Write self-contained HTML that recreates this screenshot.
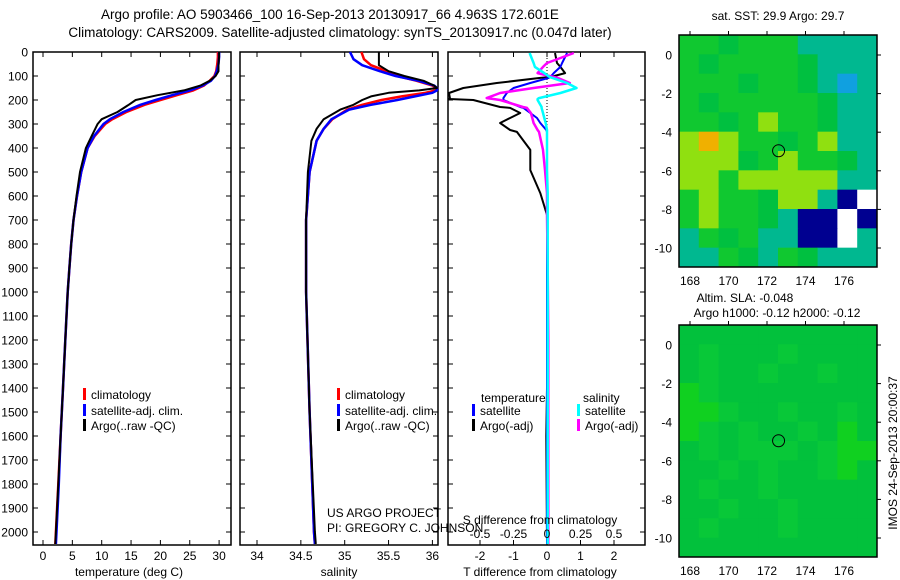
<!DOCTYPE html>
<html><head><meta charset="utf-8">
<style>
body{margin:0;background:#fff;}
svg{display:block;font-family:"Liberation Sans",sans-serif;}
text{font-size:12px;fill:#000;}
</style></head>
<body>
<svg id="chart" width="900" height="580" viewBox="0 0 900 580" xmlns="http://www.w3.org/2000/svg">
<text x="330" y="19" text-anchor="middle" style="font-size:13.5px">Argo profile: AO 5903466_100 16-Sep-2013 20130917_66 4.963S 172.601E</text>
<text x="340" y="37" text-anchor="middle" style="font-size:13.5px">Climatology: CARS2009. Satellite-adjusted climatology: synTS_20130917.nc (0.047d later)</text>
<g id="g1"></g>
<g id="g2"></g>
<g id="g3"></g>
<g id="m1"></g>
<g id="m2"></g>
<text x="778" y="20" text-anchor="middle">sat. SST: 29.9 Argo: 29.7</text>
<text x="745" y="302" text-anchor="middle">Altim. SLA: -0.048</text>
<text x="777" y="317" text-anchor="middle">Argo h1000: -0.12 h2000: -0.12</text>
<text transform="translate(897,453) rotate(-90)" text-anchor="middle">IMOS 24-Sep-2013 20:00:37</text>
<text x="327" y="517">US ARGO PROJECT</text>
<text x="327" y="532">PI: GREGORY C. JOHNSON</text>
</svg>
<script>
// ---- data ----
const tDepth = [0,20,50,80,100,120,140,160,180,200,220,250,280,300,350,400,500,600,700,800,900,1000,1200,1400,1600,1800,2000,2050];
const tClim  = [29.8,29.8,29.7,29.5,29.2,28.4,27.4,25.6,22.8,20.0,17.3,14.2,11.8,10.6,8.8,7.6,6.5,5.8,5.2,4.8,4.5,4.2,3.8,3.4,3.0,2.6,2.2,2.1];
const tSat   = [30.0,30.0,29.9,29.6,29.3,28.6,27.2,25.0,22.0,19.2,16.6,13.7,11.4,10.3,8.7,7.6,6.5,5.8,5.2,4.8,4.5,4.2,3.8,3.4,3.0,2.7,2.3,2.2];
const tArgo  = [30.0,30.0,29.9,29.9,29.4,28.4,26.8,24.0,19.5,15.8,14.6,12.7,10.0,9.3,8.3,7.3,6.3,5.7,5.2,4.8,4.5,4.2,3.8,3.4,3.0,2.6,2.2,2.1];
const sDepth = [0,30,55,80,100,120,140,150,160,170,185,200,220,240,280,320,370,500,700,1000,1500,2000,2050];
const sClim  = [35.19,35.22,35.3,35.48,35.6,35.82,36.0,36.06,36.04,35.92,35.65,35.42,35.2,35.03,34.86,34.76,34.68,34.6,34.56,34.56,34.6,34.65,34.66];
const sSat   = [35.06,35.1,35.2,35.4,35.58,35.84,36.02,36.06,36.06,36.0,35.8,35.6,35.3,35.05,34.85,34.76,34.68,34.6,34.56,34.56,34.6,34.65,34.66];
const sArgo  = [35.39,35.39,35.39,35.5,35.68,35.9,36.02,36.06,35.85,35.5,35.3,35.2,35.1,34.95,34.76,34.68,34.62,34.58,34.56,34.56,34.6,34.66,34.67];
const dDepth = [4,46,62,88,104,108,129,150,171,192,196,200,229,233,254,275,296,325,333,408,492,588,679,900,1200,1600,2050];
const dTArgo = [0.24,0.3,0.4,0.54,0.1,-0.2,-1.5,-2.5,-2.96,-2.9,-2.96,-2.2,-1.4,-1.1,-0.8,-1.1,-1.4,-1.1,-0.9,-0.5,-0.5,-0.2,0,0.03,0.02,-0.02,0];
const dTSat  = [0.6,0.45,0.4,0.2,0.1,0.05,-0.5,-1.0,-1.2,-1.3,-1.3,-1.3,-0.8,-0.7,-0.5,-0.3,-0.2,-0.02,0,0,0,0,0,0,0,0,0];
const dSArgo = [0.2,0.0,-0.03,-0.07,0.05,0.08,0.17,-0.1,-0.35,-0.45,-0.4,-0.35,-0.18,-0.15,-0.12,-0.11,-0.1,-0.07,-0.06,-0.03,-0.015,0,0,0.005,0.01,0.01,0.01];
const dSSat  = [-0.13,-0.1,-0.09,-0.02,0.02,0.04,0.15,0.22,0.1,-0.06,-0.07,-0.07,-0.04,-0.04,-0.03,-0.02,-0.01,0,0,0,0,0.005,0.005,0.005,0.005,0.005,0.005];
const depthTicks = [0,100,200,300,400,500,600,700,800,900,1000,1100,1200,1300,1400,1500,1600,1700,1800,1900,2000];
const tTicks = [0,5,10,15,20,25,30];
const sTicks = [34,34.5,35,35.5,36];
const dTTicks = [-2,-1,0,1,2];
const dSTicks = [-0.5,-0.25,0,0.25,0.5];
const dSTickLabels = ['-0.5','-0.25','0','0.25','0.5'];
const lonTicks = [168,170,172,174,176];
const latTicks = [0,-2,-4,-6,-8,-10];
const argoLon = 172.601, argoLat = -4.963;
const sstRows = [
 "ggGgggcccc","gGggggGccc","gggGggGcbc","gGgggggGcc","ggGgyggGcc",
 "yoyggGgycc","yyyGgyggGc","yygyyyyycc","gyggGyycnw","gyggGcnnwn","cgGgccnnwc","ccgGcgGccc"];
const slaRows = [
 "GGGGGGGGGG","GgGGGgGGGG","GgGGgGGgGG","LgGGGGGGGG","LLgGGgGGgG",
 "LgGgGGgGLG","GgGgggGgLL","GGgGgGGgLG","GgGGgGGGGG","GGgGGgGGGG","GgGGGgGGGG","GGGGGGGGGG"];
const cellColor = {g:'#10c830',G:'#00c040',y:'#90e010',o:'#f0b000',c:'#00b890',b:'#10a0e0',n:'#000090',w:'#ffffff',L:'#10d020'};
const slaColor = {g:'#08c838',G:'#02c13c',L:'#10d020'};

const NS='http://www.w3.org/2000/svg';
function mk(parent,tag,attrs){const e=document.createElementNS(NS,tag);for(const k in attrs)e.setAttribute(k,attrs[k]);parent.appendChild(e);return e;}
const yTop=52, yBot=545, yScale=d=>yTop+d*0.24;

function frame(g,x0,x1,xs,ticks,labels,showY){
  const r=mk(g,'rect',{x:x0,y:yTop,width:x1-x0,height:yBot-yTop,fill:'none',stroke:'#000','stroke-width':1.5});
  
  
  depthTicks.forEach(d=>{
    const y=yScale(d);
    mk(g,'line',{x1:x0,x2:x0+5,y1:y,y2:y,stroke:'#000'});
    mk(g,'line',{x1:x1-5,x2:x1,y1:y,y2:y,stroke:'#000'});
    if(showY){const t=mk(g,'text',{x:x0-5,y:y+4.5,'text-anchor':'end'});t.textContent=d;
      
      }
  });
  ticks.forEach((v,i)=>{
    const x=xs(v);
    mk(g,'line',{x1:x,x2:x,y1:yTop,y2:yTop+5,stroke:'#000'});
    mk(g,'line',{x1:x,x2:x,y1:yBot-5,y2:yBot,stroke:'#000'});
    if(labels){const t=mk(g,'text',{x:x,y:560,'text-anchor':'middle'});t.textContent=labels[i];
      
      }
  });
}
function line(g,xs,vals,deps,color,w,name,clip){
  const pts=vals.map((v,i)=>{let x=xs(v);if(clip)x=Math.max(clip[0],Math.min(clip[1],x));return x.toFixed(1)+','+yScale(deps[i]).toFixed(1);}).join(' ');
  const p=mk(g,'polyline',{points:pts,fill:'none',stroke:color,'stroke-width':w,'stroke-linejoin':'round'});
  
  
}
function legend(g,x,y,color,label,name){
  mk(g,'rect',{x:x,y:y-9,width:3,height:12,fill:color});
  const t=mk(g,'text',{x:x+8,y:y+2});t.textContent=label;
  
  
}
function axisTitle(g,x,y,s,name){const t=mk(g,'text',{x:x,y:y,'text-anchor':'middle'});t.textContent=s;
  
  }

const g1=document.getElementById('g1');
const xT=v=>43+v*5.87;
frame(g1,33,231,xT,tTicks,tTicks.map(String),true);
line(g1,xT,tClim,tDepth,'#ff0000',2.5,'temp-climatology-line');
line(g1,xT,tSat,tDepth,'#0000ff',2.5,'temp-satellite-line');
line(g1,xT,tArgo,tDepth,'#000000',2,'temp-argo-line');
legend(g1,83,397,'#ff0000','climatology','legend-climatology');
legend(g1,83,413,'#0000ff','satellite-adj. clim.','legend-satellite');
legend(g1,83,428,'#000000','Argo(..raw -QC)','legend-argo');
axisTitle(g1,129,576,'temperature (deg C)','x-axis-title-temperature');

const g2=document.getElementById('g2');
const xS=v=>257+(v-34)*87.7;
frame(g2,240,438,xS,sTicks,sTicks.map(String),false);
const cl2=[241,437];
line(g2,xS,sClim,sDepth,'#ff0000',2.5,'sal-climatology-line',cl2);
line(g2,xS,sSat,sDepth,'#0000ff',2.5,'sal-satellite-line',cl2);
line(g2,xS,sArgo,sDepth,'#000000',2,'sal-argo-line',cl2);
legend(g2,337,397,'#ff0000','climatology','legend-climatology-2');
legend(g2,337,413,'#0000ff','satellite-adj. clim.','legend-satellite-2');
legend(g2,337,428,'#000000','Argo(..raw -QC)','legend-argo-2');
axisTitle(g2,339,576,'salinity','x-axis-title-salinity');

const g3=document.getElementById('g3');
const xDT=v=>547+v*33.5, xDS=v=>547+v*134;
frame(g3,448,645,xDT,dTTicks,dTTicks.map(String),false);
mk(g3,'line',{x1:547,x2:547,y1:yTop,y2:yBot,stroke:'#000','stroke-dasharray':'1,2'});
const cl3=[449,644];
line(g3,xDT,dTArgo,dDepth,'#000000',2,'t-argo-diff-line',cl3);
line(g3,xDT,dTSat,dDepth,'#0000ff',2,'t-satellite-diff-line',cl3);
line(g3,xDS,dSArgo,dDepth,'#ff00ff',2.5,'s-argo-diff-line',cl3);
line(g3,xDS,dSSat,dDepth,'#00ffff',2.5,'s-satellite-diff-line',cl3);
dSTicks.forEach((v,i)=>{const t=mk(g3,'text',{x:xDS(v),y:538,'text-anchor':'middle'});t.textContent=dSTickLabels[i];
  
  });
axisTitle(g3,540,524,'S difference from climatology','s-diff-axis-title');
axisTitle(g3,540,576,'T difference from climatology','t-diff-axis-title');
{const t=mk(g3,'text',{x:481,y:402});t.textContent='temperature';}
{const t=mk(g3,'text',{x:583,y:402});t.textContent='salinity';}
legend(g3,472,413,'#0000ff','satellite','legend-t-satellite');
legend(g3,472,428,'#000000','Argo(-adj)','legend-t-argo');
legend(g3,577,413,'#00ffff','satellite','legend-s-satellite');
legend(g3,577,428,'#ff00ff','Argo(-adj)','legend-s-argo');

function map(id,top,rows,colors){
  const g=document.getElementById(id);
  const x0=679,x1=877,bot=top+232;
  const lx=v=>690+(v-168)*19.25, ly=v=>top+20+(0-v)*19.3;
  const cw=(x1-x0)/10, ch=(bot-top)/12;
  rows.forEach((row,r)=>{[...row].forEach((c,k)=>{
    const cell=mk(g,'rect',{x:x0+k*cw,y:top+r*ch,width:cw+0.5,height:ch+0.5,fill:colors[c]});
    
    
  });});
  const c=mk(g,'circle',{cx:lx(argoLon),cy:ly(argoLat),r:6,fill:'none',stroke:'#000','stroke-width':1});
  
  
  const f=mk(g,'rect',{x:x0,y:top,width:x1-x0,height:bot-top,fill:'none',stroke:'#000','stroke-width':1.5});
  
  
  lonTicks.forEach(v=>{const x=lx(v);
    mk(g,'line',{x1:x,x2:x,y1:top-4,y2:top,stroke:'#000'});
    const t=mk(g,'text',{x:x,y:bot+18,'text-anchor':'middle'});t.textContent=v;
    
    });
  latTicks.forEach(v=>{const y=ly(v);
    mk(g,'line',{x1:x1,x2:x1+4,y1:y,y2:y,stroke:'#000'});
    const t=mk(g,'text',{x:x0-7,y:y+4.5,'text-anchor':'end'});t.textContent=v;
    
    });
}
map('m1',35,sstRows,cellColor);
map('m2',325,slaRows,slaColor);
</script>
</body></html>
